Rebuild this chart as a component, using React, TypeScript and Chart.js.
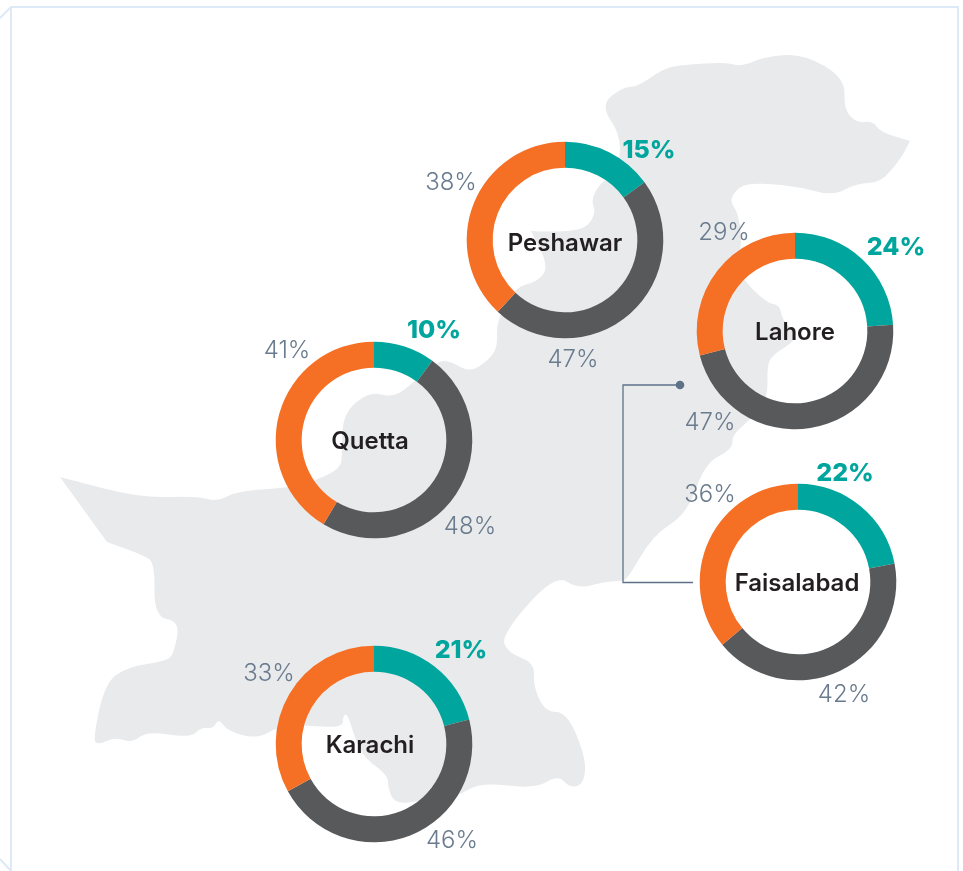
import React, { useEffect, useRef } from "react";
import { Chart, registerables } from "chart.js";

Chart.register(...registerables);

// ---- data ----
const cities = ["Peshawar", "Lahore", "Quetta", "Karachi", "Faisalabad"];
const tealValues = [15, 24, 10, 21, 22];
const greyValues = [47, 47, 48, 46, 42];
const orangeValues = [38, 29, 41, 33, 36];

// ---- layout ----
const centres: [number, number][] = [[565, 240], [795, 331], [374, 440], [374, 744], [798, 582]];
const nameOffsets: [number, number][] = [[0, 4], [0, 2], [-4, 2], [-4, 2], [-1, 2]];
const tealOffsets: [number, number][] = [[84, -90], [101, -84], [60, -110], [87, -94], [47, -109]];
const greyOffsets: [number, number][] = [[8, 120], [-85, 92], [96, 87], [78, 97], [46, 113]];
const orangeOffsets: [number, number][] = [[-114, -57], [-71, -98], [-87, -89], [-105, -70], [-88, -87]];

const TEAL = "#00a69d";
const GREY = "#58595b";
const ORANGE = "#f56f24";
const LABEL = "#6a7b8e";
const NAME = "#231f20";
const MAP = "#e9eaec";
const FRAME = "#dde9f7";
const LINK = "#5d7288";
const BOX = 300;
const FONT = "Inter";

// Map silhouette: a repeated point makes a sharp corner
const mapOutline: [number, number][] = [
  [600, 105], [623, 87], [637, 87], [663, 69], [680, 65], [728, 62], [740, 67], [767, 56], [804, 54], [845, 78], [844, 110],
  [857, 123], [873, 121], [880, 132], [910, 141], [910, 141], [900, 160], [880, 183], [857, 183], [833, 196], [800, 187], [763, 183],
  [741, 185], [731, 197], [732, 205], [738, 213], [742, 240], [738, 262], [743, 280], [767, 303], [780, 305], [782, 320], [800, 338],
  [772, 355], [767, 367], [768, 398], [750, 420], [732, 435], [733, 449], [705, 463], [687, 514], [653, 535], [627, 580], [620, 581],
  [603, 582], [578, 589], [555, 574], [501, 635], [508, 653], [535, 663], [533, 685], [545, 712], [567, 712], [586, 758], [584, 784],
  [570, 788], [558, 775], [535, 789], [480, 782], [457, 797], [420, 801], [395, 804], [388, 788], [388, 775], [360, 755], [348, 714],
  [343, 715], [343, 728], [303, 725], [280, 726], [257, 739], [227, 731], [219, 718], [213, 729], [202, 727], [190, 738], [147, 731],
  [132, 743], [115, 737], [98, 745], [93, 739], [105, 683], [127, 667], [167, 661], [174, 653], [180, 621], [154, 617], [155, 563],
  [143, 555], [107, 542], [107, 542], [60, 477], [60, 477], [140, 498], [197, 496], [217, 502], [237, 491], [287, 488], [317, 480],
  [341, 468], [342, 452], [343, 413], [370, 391], [393, 398], [413, 383], [437, 361], [450, 361], [467, 371], [480, 367], [498, 350],
  [496, 322], [515, 287], [537, 282], [549, 267], [531, 231], [531, 231], [563, 232], [587, 228], [596, 212], [591, 200], [600, 183],
  [617, 173], [622, 137],
];

function smoothPath(pts: [number, number][]): string {
  const mid = (a: [number, number], b: [number, number]) => [(a[0] + b[0]) / 2, (a[1] + b[1]) / 2];
  const n = pts.length;
  const s = mid(pts[n - 1], pts[0]);
  let d = `M${s[0]} ${s[1]}`;
  for (let i = 0; i < n; i++) {
    const m = mid(pts[i], pts[(i + 1) % n]);
    d += ` Q${pts[i][0]} ${pts[i][1]} ${m[0]} ${m[1]}`;
  }
  return d + "Z";
}

function Donut({ index }: { index: number }) {
  const ref = useRef<HTMLCanvasElement | null>(null);
  useEffect(() => {
    if (!ref.current) return;
    const values = [tealValues[index], greyValues[index], orangeValues[index]];
    const labelsPlugin = {
      id: "donutText",
      afterDraw(chart: Chart) {
        const ctx = chart.ctx;
        const c = BOX / 2;
        ctx.save();
        ctx.textAlign = "center";
        ctx.textBaseline = "middle";
        ctx.font = `300 24px ${FONT}`;
        ctx.fillStyle = LABEL;
        ctx.fillText(`${values[1]}%`, c + greyOffsets[index][0], c + greyOffsets[index][1]);
        ctx.fillText(`${values[2]}%`, c + orangeOffsets[index][0], c + orangeOffsets[index][1]);
        ctx.font = `800 25px ${FONT}`;
        ctx.fillStyle = TEAL;
        ctx.fillText(`${values[0]}%`, c + tealOffsets[index][0], c + tealOffsets[index][1]);
        ctx.font = `600 24px ${FONT}`;
        ctx.fillStyle = NAME;
        ctx.fillText(cities[index], c + nameOffsets[index][0], c + nameOffsets[index][1]);
        ctx.restore();
      },
    };
    const chart = new Chart(ref.current, {
      type: "doughnut",
      data: {
        labels: ["Teal", "Grey", "Orange"],
        datasets: [{ data: values, backgroundColor: [TEAL, GREY, ORANGE], borderWidth: 0 }],
      },
      options: {
        responsive: false,
        animation: false,
        radius: 98.3,
        cutout: "73.6%",
        plugins: { legend: { display: false }, tooltip: { enabled: false } },
      },
      plugins: [labelsPlugin],
    } as any);
    return () => chart.destroy();
  }, [index]);
  return (
    <canvas
      ref={ref}
      width={BOX}
      height={BOX}
      style={{
        position: "absolute",
        left: centres[index][0] - BOX / 2,
        top: centres[index][1] - BOX / 2,
        width: BOX,
        height: BOX,
      }}
    />
  );
}

export default function App() {
  return (
    <div style={{ position: "absolute", left: 0, top: 0, width: 963, height: 871, overflow: "hidden", background: "#fff" }}>
      <svg width={963} height={871} style={{ position: "absolute", left: 0, top: 0 }}>
        <path d={smoothPath(mapOutline)} fill={MAP} />
        <path d="M0 18 L11 7 H958 V871 M11 7 V871 M0 859 L11 871" fill="none" stroke={FRAME} strokeWidth={2} />
        <path d="M680 385 H623 V582.5 H693" fill="none" stroke={LINK} strokeWidth={1.3} />
        <circle cx={680} cy={385} r={4.3} fill={LINK} />
      </svg>
      {cities.map((_, i) => (
        <Donut key={i} index={i} />
      ))}
    </div>
  );
}
